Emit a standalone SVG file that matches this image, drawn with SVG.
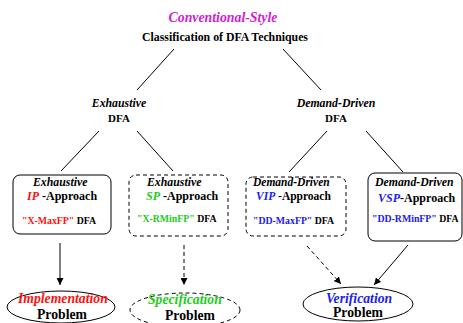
<svg xmlns="http://www.w3.org/2000/svg" width="463" height="323" viewBox="0 0 463 323">
<defs>
<marker id="ah" viewBox="0 0 10 10" refX="10" refY="5" markerWidth="7" markerHeight="7" markerUnits="userSpaceOnUse" orient="auto">
<path d="M0,0 L10,5 L0,10 z" fill="#000"/>
</marker>
<style>
text{font-family:"Liberation Serif","Times New Roman",serif;font-weight:bold;fill:#000}
.c{text-anchor:middle}
.i{font-style:italic}
.s{font-size:11.8px}
.a{font-size:12px}
.t{font-size:9.8px}
.e{font-size:13.7px}
.red{fill:#ff1010}
.grn{fill:#20cc20}
.blu{fill:#2020ee}
.box{fill:#fff;stroke:#000;stroke-width:1}
.dash{stroke-dasharray:4 3}
.ln{stroke:#000;stroke-width:1;fill:none}
</style>
</defs>
<rect width="463" height="323" fill="#fff"/>
<g id="connectors">
<line class="ln" x1="174" y1="49" x2="137" y2="90"/>
<line class="ln" x1="283" y1="49" x2="321" y2="90"/>
<line class="ln" x1="99" y1="131" x2="61" y2="171"/>
<line class="ln" x1="137" y1="131" x2="173" y2="171"/>
<line class="ln" x1="327" y1="131" x2="289" y2="172"/>
<line class="ln" x1="366" y1="131" x2="403" y2="172"/>
<line class="ln" x1="60" y1="243" x2="60" y2="285" marker-end="url(#ah)"/>
<line class="ln dash" x1="184" y1="245" x2="184" y2="285" marker-end="url(#ah)"/>
<line class="ln dash" x1="307" y1="246" x2="341" y2="284" marker-end="url(#ah)"/>
<line class="ln" x1="408" y1="245" x2="374" y2="285" marker-end="url(#ah)"/>
</g>
<g id="title">
<text x="223" y="22" class="c i" style="font-size:13.8px;fill:#d020d0">Conventional-Style</text>
<text x="225" y="41" class="c" style="font-size:11.8px">Classification of DFA Techniques</text>
</g>
<g id="exhaustive">
<text x="119" y="107" class="c i s">Exhaustive</text>
<text x="119" y="122" class="c" style="font-size:11px">DFA</text>
</g>
<g id="demand">
<text x="336" y="107" class="c i s">Demand-Driven</text>
<text x="336" y="122" class="c" style="font-size:11px">DFA</text>
</g>
<g id="ip">
<rect class="box" x="13" y="175" width="98" height="59" rx="7"/>
<text x="33" y="186" class="i s">Exhaustive</text>
<text x="27" y="200" class="a"><tspan class="i red">IP</tspan> -Approach</text>
<text x="22" y="224" class="t"><tspan class="red">"X-MaxFP"</tspan> DFA</text>
</g>
<g id="sp">
<rect class="box dash" x="129" y="175" width="99" height="61" rx="7"/>
<text x="147" y="186" class="i s">Exhaustive</text>
<text x="146" y="200" class="a"><tspan class="i grn">SP</tspan> -Approach</text>
<text x="137" y="222" class="t"><tspan class="grn">"X-RMinFP"</tspan> DFA</text>
</g>
<g id="vip">
<rect class="box dash" x="246" y="177" width="100" height="59" rx="7"/>
<text x="253" y="186" class="i" style="font-size:11.5px">Demand-Driven</text>
<text x="256" y="200" style="font-size:11.5px"><tspan class="i blu">VIP</tspan> -Approach</text>
<text x="253" y="224" class="t"><tspan class="blu">"DD-MaxFP"</tspan> DFA</text>
</g>
<g id="vsp">
<rect class="box" x="368" y="173" width="94" height="68" rx="7"/>
<text x="375" y="186" class="i s">Demand-Driven</text>
<text x="378" y="202" class="a"><tspan class="i blu">VSP</tspan>-Approach</text>
<text x="372" y="222" class="t"><tspan class="blu">"DD-RMinFP"</tspan> DFA</text>
</g>
<g id="impl">
<ellipse class="box" cx="61" cy="307" rx="54" ry="16"/>
<text x="18" y="303" class="i e red">Implementation</text>
<text x="37" y="319" class="e">Problem</text>
</g>
<g id="spec">
<ellipse class="box dash" cx="185" cy="310" rx="55" ry="17"/>
<text x="148" y="304" class="i e grn">Specification</text>
<text x="165" y="320" class="e">Problem</text>
</g>
<g id="verif">
<ellipse class="box" cx="358" cy="304" rx="55" ry="17"/>
<text x="326" y="303" class="i e blu">Verification</text>
<text x="333" y="317" class="e">Problem</text>
</g>
</svg>
